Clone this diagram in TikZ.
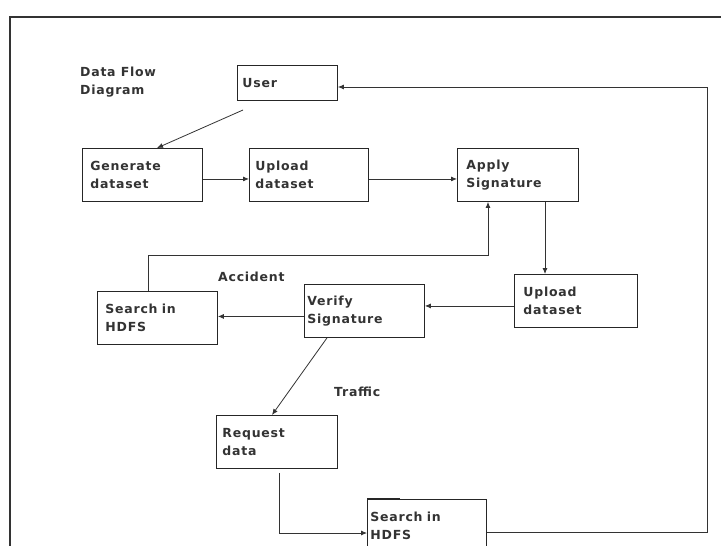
\documentclass[tikz,border=0pt]{standalone}
\usepackage{fontspec}
\setmainfont{DejaVu Sans}[LetterSpace=6]
\usetikzlibrary{arrows.meta,calc}
\begin{document}
\begin{tikzpicture}[x=1pt,y=-1pt,
  every node/.style={font=\fontsize{12.5}{18}\selectfont\bfseries, text=black!80},
  box/.style n args={3}{draw=black!85, line width=0.9pt, anchor=north west, align=left,
    inner ysep=0pt, inner xsep=#3, minimum width=#1, minimum height=53pt, text width=#2},
  arr/.style={-{Latex[length=6pt,width=5pt]}, line width=0.8pt, draw=black!80},
  lbl/.style={anchor=west, inner sep=0pt}]
\clip (0,0) rectangle (721,546);
\fill[white] (0,0) rectangle (721,546);
% frame
\draw[line width=1.4pt, black!80] (721,17) -- (10,17) -- (10,546);
% title
\node[lbl, align=left] (title) at (80,82) {Data Flow\\Diagram};
% boxes
\node[box={100pt}{90pt}{5pt}, minimum height=35pt] (user) at (237,65) {User};
\node[box={120pt}{104pt}{8pt}] (gen) at (82,148) {Generate\\dataset};
\node[box={119pt}{107pt}{6pt}] (up1) at (249,148) {Upload\\dataset};
\node[box={121pt}{103pt}{9pt}] (apply) at (457,148) {Apply\\Signature};
\node[box={120pt}{104pt}{8pt}] (search1) at (97,291) {Search in\\HDFS};
\node[box={120pt}{114pt}{3pt}] (verify) at (304,284) {Verify\\Signature};
\node[box={123pt}{105pt}{9pt}] (up2) at (514,274) {Upload\\dataset};
\node[box={121pt}{109pt}{6pt}] (request) at (216,415) {Request\\data};
\node[box={119pt}{113pt}{3pt}] (search2) at (367,499) {Search in\\HDFS};
\draw[line width=2pt, black!85] (search2.north west) -- ++(33,0);
% labels
\node[lbl] (acc) at (218,277) {Accident};
\node[lbl] (traf) at (334,392) {Traffic};
% connectors
\coordinate (u1) at (243,110);
\draw[arr] (u1) -- ($(gen.north west)+(75,0)$);
\draw[arr] ($(gen.east)+(0,4)$) coordinate (p1) -- (p1 -| up1.west);
\draw[arr] ($(up1.east)+(0,4)$) coordinate (p2) -- (p2 -| apply.west);
\draw[arr] ($(apply.south west)+(88,0)$) -- ($(up2.north west)+(31,0)$);
\draw[arr] ($(search1.north west)+(51,0)$) |- ($(apply.south west)+(31,53)$) -- ($(apply.south west)+(31,0)$);
\draw[arr] ($(up2.west)+(0,5)$) coordinate (p3) -- (p3 -| verify.east);
\draw[arr] ($(verify.west)+(0,5.5)$) coordinate (p4) -- (p4 -| search1.east);
\draw[arr] ($(verify.south west)+(23,0)$) -- ($(request.north west)+(56,0)$);
\draw[arr] ($(request.south west)+(63,4)$) |- ($(search2.north west)+(0,34)$);
\coordinate (rc) at (707,87);
\draw[arr] ($(search2.north east)+(0,33)$) -| (rc) -- (user.east |- rc);
\end{tikzpicture}
\end{document}
